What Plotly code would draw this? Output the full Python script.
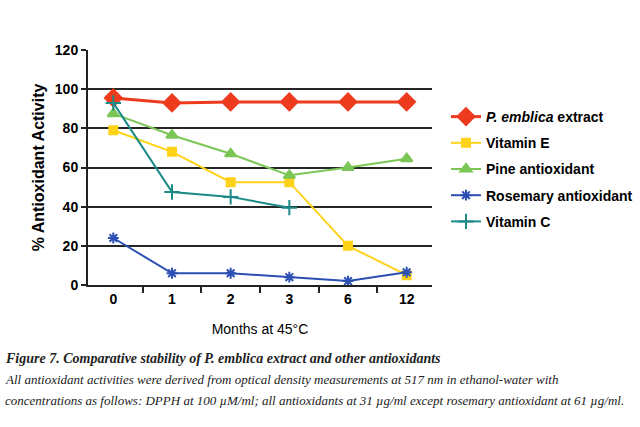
import plotly.graph_objects as go

months = ["0", "1", "2", "3", "6", "12"]
emblica = [95.5, 93, 93.5, 93.5, 93.5, 93.5]
vitamin_e = [79, 68, 52.5, 52.5, 20, 5]
pine = [87.5, 76.5, 67, 56, 60, 64.5]
rosemary = [24, 6, 6, 4, 2, 6.5]
vitamin_c = [93, 47.5, 45, 39.5, None, None]
y_ticks = [0, 20, 40, 60, 80, 100, 120]

series = [
    ("<i>P. emblica</i> extract", emblica, "#EE3B1E", "diamond", 13, 3),
    ("Vitamin E", vitamin_e, "#FFD21A", "square", 8, 2),
    ("Pine antioxidant", pine, "#7CC657", "triangle-up", 10, 2),
    ("Rosemary antioxidant", rosemary, "#2C4FB4", "asterisk-open", 9, 2),
    ("Vitamin C", vitamin_c, "#1B8A86", "cross-thin-open", 11, 2),
]

fig = go.Figure()
for i, (name, vals, color, sym, size, lw) in enumerate(series):
    fig.add_trace(go.Scatter(
        x=months, y=vals, name=name, mode="lines+markers",
        legendgroup=f"g{i}",
        line=dict(color=color, width=lw),
        marker=dict(symbol=sym, size=size, color=color,
                    line=dict(color=color, width=2)),
        connectgaps=False,
    ))

L, R, T, B = 88, 208, 50, 142
W, H = 640, 427
ph = H - T - B
pw = W - L - R

def py(pix):
    return (H - B - pix) / ph

def px(pix):
    return (pix - L) / pw

fig.update_layout(
    width=W, height=H,
    margin=dict(l=L, r=R, t=T, b=B, autoexpand=False),
    paper_bgcolor="white", plot_bgcolor="white",
    font=dict(family="Liberation Sans, Arial", color="black"),
    showlegend=True,
    legend=dict(x=px(446), y=py(101), xanchor="left", yanchor="top",
                font=dict(size=14, family="Liberation Sans, Arial", weight="bold"),
                itemwidth=30, tracegroupgap=5, bgcolor="rgba(0,0,0,0)"),
    xaxis=dict(
        type="category", tickson="boundaries", ticks="outside", ticklen=6,
        tickwidth=2, tickcolor="#222", showline=True, linecolor="#222", linewidth=2,
        showgrid=False, tickfont=dict(size=14, weight="bold"),
        title=dict(text="Months at 45°C", font=dict(size=14), standoff=18),
    ),
    yaxis=dict(
        range=[0, 120], tickvals=y_ticks, ticks="outside", ticklen=5, tickwidth=2,
        tickcolor="#222", showline=True, linecolor="#222", linewidth=2,
        showgrid=True, gridcolor="#262626", gridwidth=2, zeroline=False,
        tickfont=dict(size=14, weight="bold"),
        title=dict(text="% Antioxidant Activity", font=dict(size=16, weight="bold"), standoff=6),
    ),
)

serif = "Liberation Serif, DejaVu Serif, serif"
captions = [
    ("<b><i>Figure 7. Comparative stability of P. emblica extract and other antioxidants</i></b>", 358, 14),
    ("<i>All antioxidant activities were derived from optical density measurements at 517 nm in ethanol-water with</i>", 379, 13),
    ("<i>concentrations as follows: DPPH at 100 µM/ml; all antioxidants at 31 µg/ml except rosemary antioxidant at 61 µg/ml.</i>", 400, 13),
]
for text, ypix, fs in captions:
    fig.add_annotation(
        text=text, xref="paper", yref="paper",
        x=px(3), y=py(ypix), xanchor="left", yanchor="middle",
        showarrow=False, font=dict(family=serif, size=fs, color="#222"),
    )

fig.write_html("out.html")
